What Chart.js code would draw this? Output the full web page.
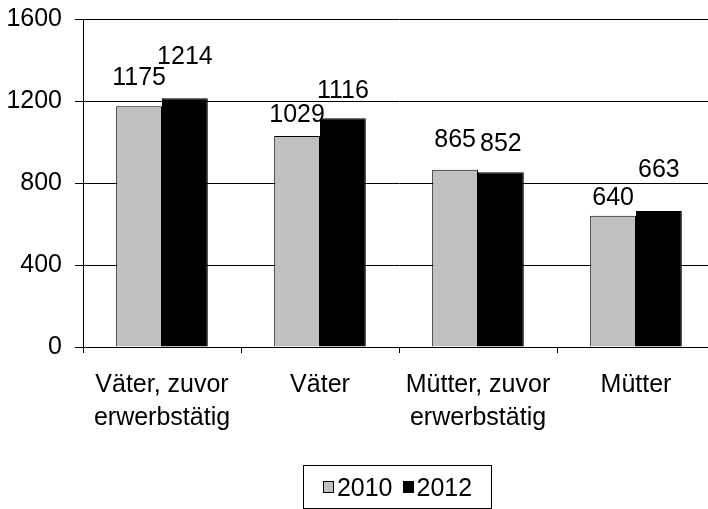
<!DOCTYPE html>
<html>
<head>
<meta charset="utf-8">
<script src="https://cdn.jsdelivr.net/npm/chart.js@4/dist/chart.umd.min.js"></script>
<style>
  body { margin: 0; width: 708px; height: 509px; overflow: hidden; background: #fff; position: relative; }
  #wrap { position: absolute; left: 0; top: 0; width: 720px; height: 509px; }
  #legend {
    position: absolute; left: 303px; top: 465px; width: 187px; height: 42px;
    border: 1px solid #000; box-sizing: content-box;
    font-family: 'Liberation Sans', Arial, sans-serif; font-size: 25px; color: #000;
    display: flex; align-items: center; justify-content: center;
  }
  #legend .sw { display: inline-block; width: 9px; height: 10px; border: 1px solid #000; margin-right: 3px; }
  #legend .item { display: flex; align-items: center; margin: 0 5px; }
</style>
</head>
<body>
<div id="wrap"><canvas id="chart"></canvas></div>
<div id="legend"></div>
<script>
const categories = [['Väter, zuvor', 'erwerbstätig'], 'Väter', ['Mütter, zuvor', 'erwerbstätig'], 'Mütter'];
const seriesNames = ['2010', '2012'];
const values2010 = [1175, 1029, 865, 640];
const values2012 = [1214, 1116, 852, 663];
const yTicks = [0, 400, 800, 1200, 1600];

// how far above each bar top the value label sits (hand-placed in the original)
const labelLift2010 = [28, 21, 30, 18];
const labelLift2012 = [41, 27, 28, 41];

const colors = ['#c0c0c0', '#000000'];
const fontFamily = "'Liberation Sans', Arial, sans-serif";

Chart.defaults.font.family = fontFamily;
Chart.defaults.color = '#000';

const valueLabels = {
    id: 'valueLabels',
    afterDatasetsDraw(chart) {
        const ctx = chart.ctx;
        const lifts = [labelLift2010, labelLift2012];
        ctx.save();
        ctx.font = '25px ' + fontFamily;
        ctx.fillStyle = '#000';
        ctx.textAlign = 'center';
        ctx.textBaseline = 'middle';
        chart.data.datasets.forEach((ds, di) => {
            const meta = chart.getDatasetMeta(di);
            meta.data.forEach((bar, i) => {
                ctx.fillText(String(ds.data[i]), bar.x, bar.y - lifts[di][i]);
            });
        });
        ctx.restore();
    }
};

// no extra room for half-labels, the plot box is fixed
function noPad(scale) {
    scale.paddingTop = 0;
    scale.paddingBottom = 0;
    scale.paddingLeft = 0;
    scale.paddingRight = 0;
}

const ctx = document.getElementById('chart').getContext('2d');
new Chart(ctx, {
    type: 'bar',
    data: {
        labels: categories,
        datasets: [
            { label: seriesNames[0], data: values2010, backgroundColor: colors[0], borderColor: '#000', borderWidth: 1 },
            { label: seriesNames[1], data: values2012, backgroundColor: colors[1], borderColor: '#000', borderWidth: 1 }
        ]
    },
    options: {
        responsive: true,
        maintainAspectRatio: false,
        animation: false,
        datasets: { bar: { categoryPercentage: 0.58, barPercentage: 1.0 } },
        layout: { padding: { top: 19, right: 5, left: 0, bottom: 0 } },
        plugins: { legend: { display: false }, tooltip: { enabled: false } },
        scales: {
            x: {
                grid: { offset: true, drawOnChartArea: false, drawTicks: true, tickLength: 6, color: '#000' },
                border: { display: true, color: '#000', width: 1 },
                ticks: { font: { size: 25, lineHeight: 1.3 }, padding: 16, maxRotation: 0, autoSkip: false },
                afterFit(scale) { scale.height = 162; noPad(scale); }
            },
            y: {
                min: 0,
                max: 1600,
                afterBuildTicks(scale) { scale.ticks = yTicks.map(v => ({ value: v })); },
                grid: { color: '#000', tickLength: 8 },
                border: { display: true, color: '#000', width: 1 },
                ticks: { font: { size: 25 }, padding: 13, callback: v => String(v) },
                afterFit(scale) { scale.width = 83; noPad(scale); }
            }
        }
    },
    plugins: [valueLabels]
});

const legend = document.getElementById('legend');
seriesNames.forEach((name, i) => {
    const item = document.createElement('span');
    item.className = 'item';
    const sw = document.createElement('span');
    sw.className = 'sw';
    sw.style.background = colors[i];
    item.appendChild(sw);
    item.appendChild(document.createTextNode(name));
    legend.appendChild(item);
});
</script>
</body>
</html>
